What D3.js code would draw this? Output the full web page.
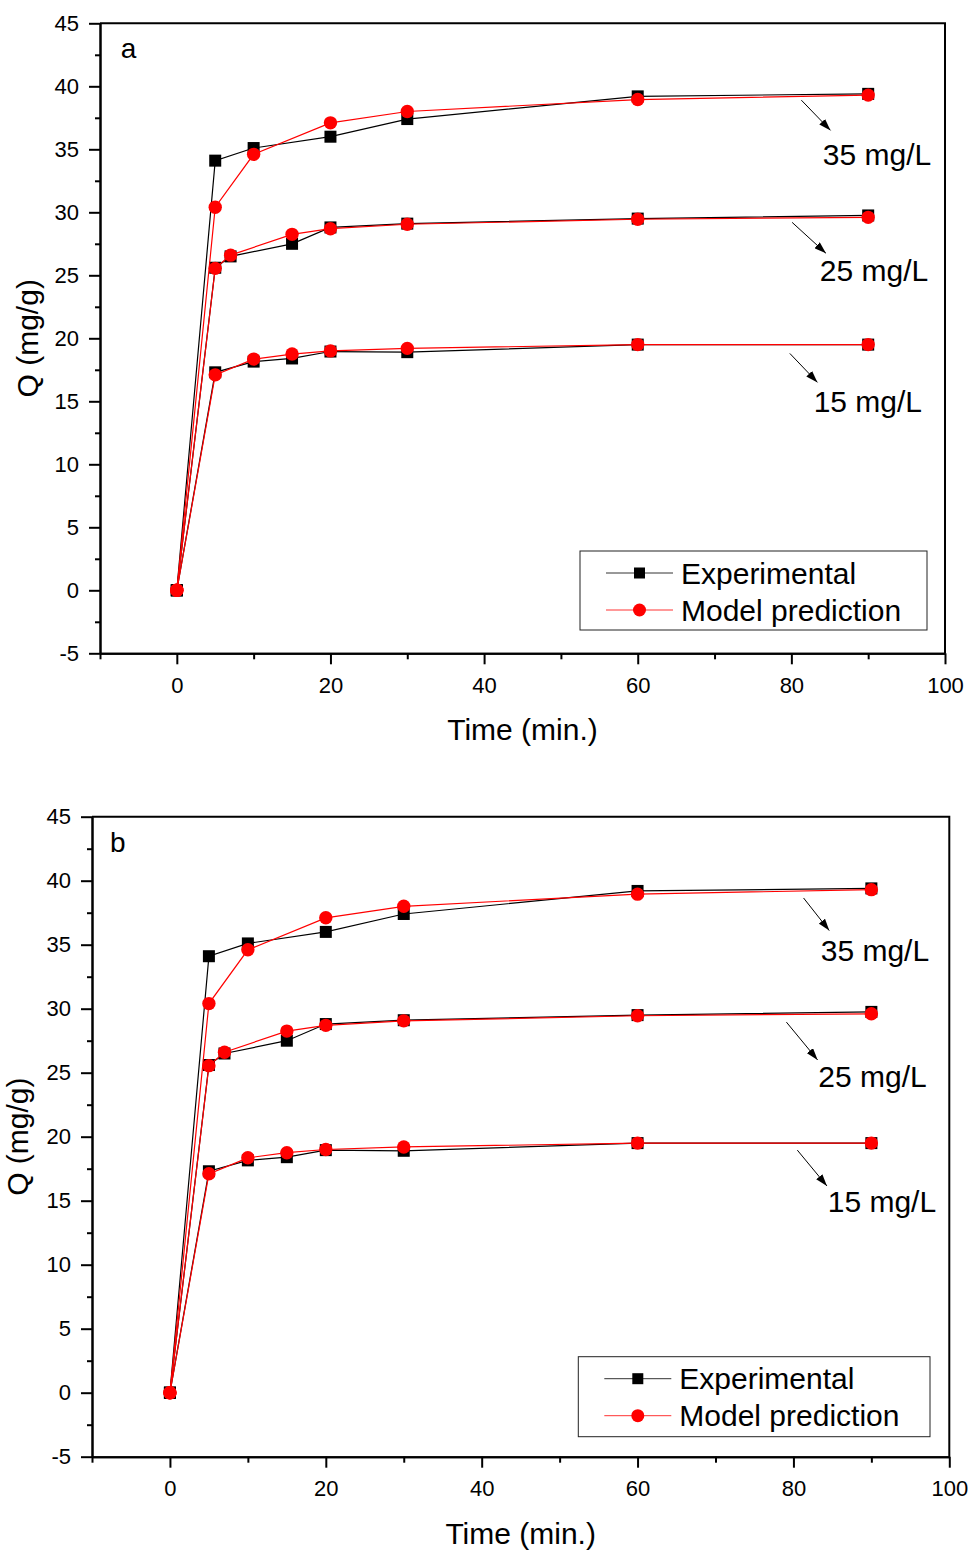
<!DOCTYPE html>
<html>
<head>
<meta charset="utf-8">
<script src="https://cdn.jsdelivr.net/npm/d3@7"></script>
<style>
  body { margin: 0; background: #fff; }
  svg text { font-family: "Liberation Sans", Arial, sans-serif; fill: #000; }
</style>
</head>
<body>
<div id="chart"></div>
<script>
// sampling times (min) and uptake Q (mg/g) for each initial concentration
const times35 = [0, 5, 10, 20, 30, 60, 90];
const exp35 = [0, 34.1, 35.1, 36.0, 37.4, 39.2, 39.4];
const mod35 = [0, 30.4, 34.6, 37.1, 38.0, 38.95, 39.3];

const times25 = [0, 5, 7, 15, 20, 30, 60, 90];
const exp25 = [0, 25.6, 26.5, 27.5, 28.8, 29.1, 29.5, 29.75];
const mod25 = [0, 25.55, 26.6, 28.25, 28.7, 29.05, 29.45, 29.6];

const times15 = [0, 5, 10, 15, 20, 30, 60, 90];
const exp15 = [0, 17.3, 18.15, 18.4, 18.95, 18.9, 19.5, 19.5];
const mod15 = [0, 17.1, 18.35, 18.75, 19.0, 19.2, 19.5, 19.5];

const concLabels = ["35 mg/L", "25 mg/L", "15 mg/L"];
const legendLabels = ["Experimental", "Model prediction"];
const xTicks = [0, 20, 40, 60, 80, 100];
const xMinor = [-10, 10, 30, 50, 70, 90];
const yTicks = [-5, 0, 5, 10, 15, 20, 25, 30, 35, 40, 45];
const yMinor = [-2.5, 2.5, 7.5, 12.5, 17.5, 22.5, 27.5, 32.5, 37.5, 42.5];

const series = [
  { t: times35, exp: exp35, mod: mod35 },
  { t: times25, exp: exp25, mod: mod25 },
  { t: times15, exp: exp15, mod: mod15 }
];

const W = 969, H = 1550;
const svg = d3.select("#chart").append("svg")
  .attr("width", W).attr("height", H);

svg.append("defs").append("marker")
  .attr("id", "arrow")
  .attr("viewBox", "0 0 12 8")
  .attr("refX", 12).attr("refY", 4)
  .attr("markerWidth", 12).attr("markerHeight", 8)
  .attr("markerUnits", "userSpaceOnUse")
  .attr("orient", "auto")
  .append("path")
  .attr("d", "M0,0L12,4L0,8Z")
  .attr("fill", "#000");

// layout of the two panels; annotation arrows are given in data units
const panels = [
  {
    letter: "a", left: 100, right: 945, top: 23.3, bottom: 653.3,
    letterPos: [20.7, 34.7],
    notes: [
      { from: [81.3, 38.9], to: [85.1, 36.5], text: [84.1, 33.75] },
      { from: [80.1, 29.2], to: [84.5, 26.75], text: [83.7, 24.57] },
      { from: [79.8, 18.8], to: [83.4, 16.5], text: [82.9, 14.17] }
    ],
    legend: { x: 580, y: 551, w: 347, h: 79 },
    yTitleOff: 62
  },
  {
    letter: "b", left: 92, right: 949.3, top: 816.7, bottom: 1456.7,
    letterPos: [18, 35],
    notes: [
      { from: [81.3, 38.65], to: [84.6, 36.1], text: [83.5, 33.75] },
      { from: [79.1, 28.95], to: [83.1, 26.0], text: [83.2, 23.9] },
      { from: [80.5, 18.95], to: [84.3, 16.15], text: [84.4, 14.14] }
    ],
    legend: { x: 578.3, y: 1356.7, w: 351.7, h: 80 },
    yTitleOff: 64
  }
];

panels.forEach(drawPanel);

function drawPanel(p) {
  const x = d3.scaleLinear().domain([-10, 100]).range([p.left, p.right]);
  const y = d3.scaleLinear().domain([-5, 45]).range([p.bottom, p.top]);
  const g = svg.append("g");

  // frame top/right
  g.append("path")
    .attr("d", `M${p.left},${p.top}H${p.right}V${p.bottom}`)
    .attr("fill", "none").attr("stroke", "#000").attr("stroke-width", 2);

  const styleAxis = sel => {
    sel.select(".domain").attr("stroke-width", 2);
    sel.selectAll(".tick line").attr("stroke-width", 2);
    sel.selectAll("text").attr("font-size", 22)
      .attr("font-family", '"Liberation Sans", Arial, sans-serif');
  };
  const plain = d => String(d); // hyphen minus like the original

  g.append("g").attr("transform", `translate(0,${p.bottom})`)
    .call(d3.axisBottom(x).tickValues(xMinor).tickSize(6).tickSizeOuter(0).tickFormat(""))
    .call(styleAxis);
  g.append("g").attr("transform", `translate(0,${p.bottom})`)
    .call(d3.axisBottom(x).tickValues(xTicks).tickSize(11).tickSizeOuter(0).tickPadding(13).tickFormat(plain))
    .call(styleAxis);

  g.append("g").attr("transform", `translate(${p.left},0)`)
    .call(d3.axisLeft(y).tickValues(yMinor).tickSize(5).tickSizeOuter(0).tickFormat(""))
    .call(styleAxis);
  g.append("g").attr("transform", `translate(${p.left},0)`)
    .call(d3.axisLeft(y).tickValues(yTicks).tickSize(11).tickSizeOuter(0).tickPadding(10).tickFormat(plain))
    .call(styleAxis);

  // axis titles
  g.append("text")
    .attr("x", (p.left + p.right) / 2).attr("y", p.bottom + 87)
    .attr("text-anchor", "middle").attr("font-size", 30)
    .text("Time (min.)");
  g.append("text")
    .attr("transform", `translate(${p.left - p.yTitleOff},${(p.top + p.bottom) / 2}) rotate(-90)`)
    .attr("text-anchor", "middle").attr("font-size", 30)
    .text("Q (mg/g)");

  g.append("text")
    .attr("x", p.left + p.letterPos[0]).attr("y", p.top + p.letterPos[1])
    .attr("font-size", 28).text(p.letter);

  const line = d3.line().x(d => x(d[0])).y(d => y(d[1]));

  // experimental (black squares)
  series.forEach(s => {
    const pts = s.t.map((t, i) => [t, s.exp[i]]);
    g.append("path").attr("d", line(pts))
      .attr("fill", "none").attr("stroke", "#000").attr("stroke-width", 1.2);
    g.selectAll(null).data(pts).join("rect")
      .attr("x", d => x(d[0]) - 6).attr("y", d => y(d[1]) - 6)
      .attr("width", 12).attr("height", 12).attr("fill", "#000");
  });

  // model prediction (red circles)
  series.forEach(s => {
    const pts = s.t.map((t, i) => [t, s.mod[i]]);
    g.append("path").attr("d", line(pts))
      .attr("fill", "none").attr("stroke", "#ff0000").attr("stroke-width", 1.2);
    g.selectAll(null).data(pts).join("circle")
      .attr("cx", d => x(d[0])).attr("cy", d => y(d[1]))
      .attr("r", 6.7).attr("fill", "#ff0000");
  });

  // concentration annotations
  p.notes.forEach((n, i) => {
    g.append("line")
      .attr("x1", x(n.from[0])).attr("y1", y(n.from[1]))
      .attr("x2", x(n.to[0])).attr("y2", y(n.to[1]))
      .attr("stroke", "#000").attr("stroke-width", 1)
      .attr("marker-end", "url(#arrow)");
    g.append("text")
      .attr("x", x(n.text[0])).attr("y", y(n.text[1]))
      .attr("font-size", 30).text(concLabels[i]);
  });

  // legend
  const L = p.legend;
  g.append("rect")
    .attr("x", L.x).attr("y", L.y).attr("width", L.w).attr("height", L.h)
    .attr("fill", "#fff").attr("stroke", "#222").attr("stroke-width", 1);
  const colors = ["#000", "#ff0000"];
  legendLabels.forEach((lab, i) => {
    const cy = L.y + 22 + i * 37;
    const lx = L.x + 26;
    g.append("line")
      .attr("x1", lx).attr("x2", lx + 67).attr("y1", cy).attr("y2", cy)
      .attr("stroke", i === 0 ? "#333" : "#ff3333").attr("stroke-width", 1);
    if (i === 0) {
      g.append("rect").attr("x", lx + 33.5 - 5.5).attr("y", cy - 5.5)
        .attr("width", 11).attr("height", 11).attr("fill", colors[i]);
    } else {
      g.append("circle").attr("cx", lx + 33.5).attr("cy", cy)
        .attr("r", 6.5).attr("fill", colors[i]);
    }
    g.append("text")
      .attr("x", lx + 75).attr("y", cy).attr("dy", "0.35em")
      .attr("font-size", 30).text(lab);
  });
}
</script>
</body>
</html>
